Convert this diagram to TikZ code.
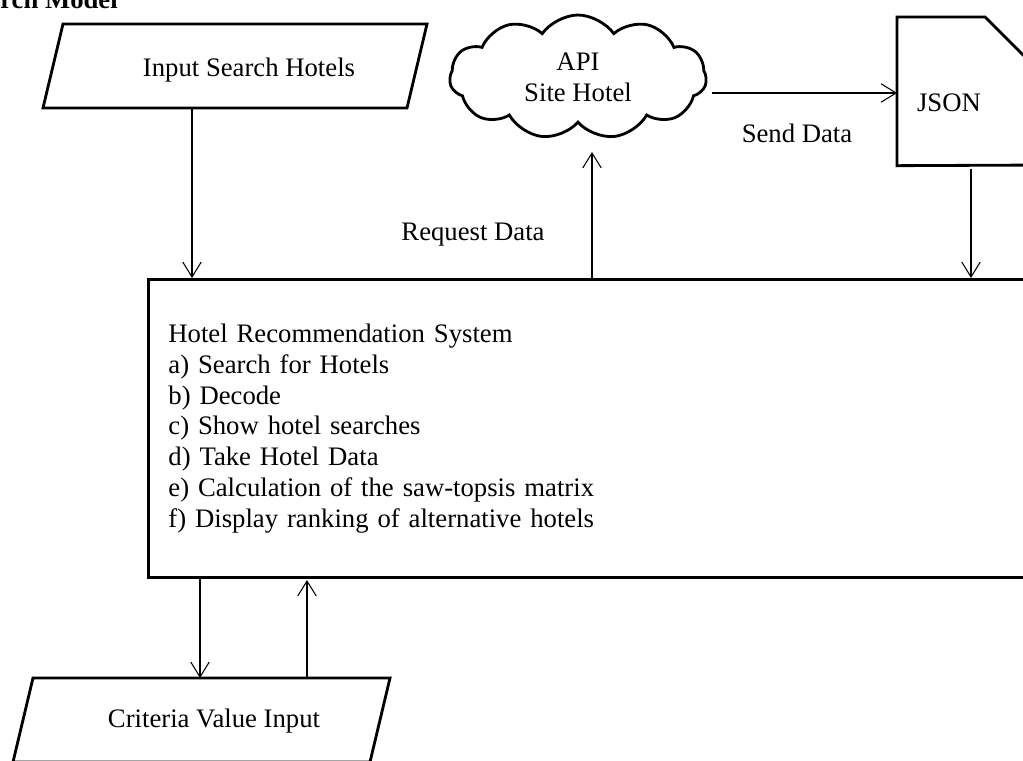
\documentclass[tikz,border=0pt]{standalone}
\usepackage{fontspec}
\setmainfont{Liberation Serif}
\usepackage{tikz}
\usetikzlibrary{positioning}
\usetikzlibrary{arrows.meta}
\usetikzlibrary{shapes.symbols}

\begin{document}
\begin{tikzpicture}[x=0.02cm,y=-0.02cm,
    every node/.style={font=\fontsize{15.2}{17.5}\selectfont, inner sep=0pt},
    frame/.style={line width=1.6pt, line join=miter},
    arr/.style={-{Straight Barb[length=8.5pt,width=10.5pt]}, line width=0.6pt},
    sysbox/.style={draw, line width=1.6pt, anchor=north west, minimum width=17.66cm,
        minimum height=5.96cm, text width=16.86cm, align=left, inner xsep=0.4cm}]
            \useasboundingbox (0,0) rectangle (1023,760);
            % title (cut off at the top)
            \node[anchor=base west, font=\fontsize{15.2}{17.5}\selectfont\bfseries] (title) at (0,9) {rch Model};
            % input of the search
            \draw[frame] (63,24) -- (427,24) -- (407,108) -- (43,108) -- cycle;
            \node (inp) at (249,70) {Input Search Hotels};
            % api
            \node[cloud, draw, line width=1.6pt, cloud puffs=11, cloud puff arc=110, aspect=2,
                minimum width=5.14cm, minimum height=2.48cm, align=center] (api) at (578,77) {API\\Site Hotel};
            % json document
            \node[minimum width=2.96cm, minimum height=2.96cm, anchor=north west] (jsonbox) at (897,17) {};
            \draw[frame] (jsonbox.north west) -- (985,17) -- (1045,77) -- (1045,165) -- (jsonbox.south west) -- cycle;
            \node (json) at (949,103) {JSON};
            % system
            \node[sysbox] (sys) at (147,278) {Hotel Recommendation System\\
                a) Search for Hotels\\
                b) Decode\\
                c) Show hotel searches\\
                d) Take Hotel Data\\
                e) Calculation of the saw-topsis matrix\\
                f) Display ranking of alternative hotels};
            % criteria input
            \draw[frame] (33,678) -- (390,678) -- (370,762) -- (13,762) -- cycle;
            \node (crit) at (214,721) {Criteria Value Input};
            % connectors
            \coordinate (inpfoot) at (192,108);
            \draw[arr] (inpfoot) -- (inpfoot |- sys.north);
            \coordinate (reqfoot) at (592,278);
            \coordinate (reqhead) at (592,152);
            \draw[arr] (reqfoot) -- (reqhead);
            \node (req) at (473,235) {Request Data};
            \coordinate (sendtail) at (712,93);
            \draw[arr] (sendtail) -- (sendtail -| jsonbox.west);
            \node (send) at (797,133) {Send Data};
            \coordinate (jsonfoot) at (971,169);
            \draw[arr] (jsonfoot) -- (jsonfoot |- sys.north);
            \coordinate (critdown) at (200,678);
            \draw[arr] (critdown |- sys.south) -- (critdown);
            \coordinate (critup) at (307,678);
            \draw[arr] (critup) -- (307,580);
        \end{tikzpicture}
\end{document}
